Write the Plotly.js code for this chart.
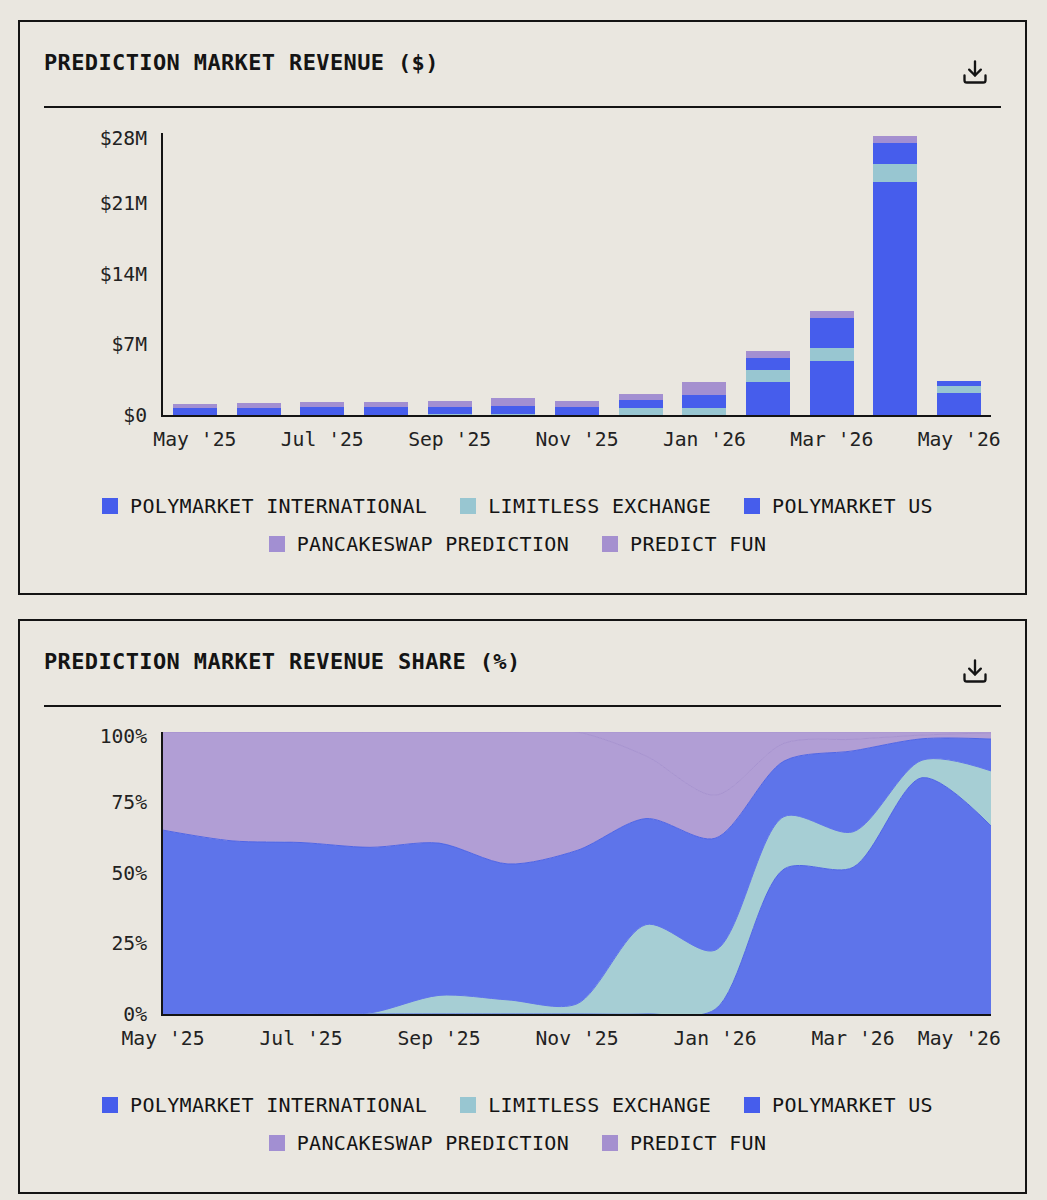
<!DOCTYPE html>
<html>
<head>
<meta charset="utf-8">
<title>Prediction market revenue</title>
<script src="https://cdn.plot.ly/plotly-3.0.1.min.js"></script>
<style>
  html, body { margin: 0; padding: 0; background: #eae7e0; }
  body { position: relative; width: 1047px; height: 1200px; overflow: hidden; font-family: "DejaVu Sans Mono", monospace; color: #141414; }
  .panel { position: absolute; left: 18px; width: 1005px; height: 571px; border: 2px solid #141414; }
  .title { position: absolute; left: 24px; top: 26px; font-size: 22px; line-height: 30px; font-weight: bold; letter-spacing: 0.37px; white-space: nowrap; }
  .icon { position: absolute; left: 941px; top: 36px; width: 28px; height: 28px; }
  .rule { position: absolute; left: 24px; top: 84px; width: 957px; height: 2px; background: #141414; }
  .plot { position: absolute; left: 24px; top: 98px; width: 980px; height: 340px; }
  .legend { position: absolute; left: 24px; top: 470px; width: 947px; display: flex; flex-wrap: wrap; justify-content: center; row-gap: 10px; column-gap: 33px; }
  .legend-item { display: flex; align-items: center; height: 28px; font-size: 20px; letter-spacing: 0.34px; white-space: nowrap; }
  .legend-item i { display: block; width: 16px; height: 16px; margin-right: 12px; }
</style>
</head>
<body>
<div class="panel" style="top: 20px;">
  <div class="title">PREDICTION MARKET REVENUE ($)</div>
  <svg class="icon" viewBox="0 0 24 24" fill="none" stroke="#141414" stroke-width="2" stroke-linecap="round" stroke-linejoin="round"><path d="M21 15v4a2 2 0 0 1-2 2H5a2 2 0 0 1-2-2v-4"/><polyline points="7 10 12 15 17 10"/><line x1="12" y1="15" x2="12" y2="3"/></svg>
  <div class="rule"></div>
  <div class="plot" id="revenuePlot"></div>
  <div class="legend" id="revenueLegend"></div>
</div>
<div class="panel" style="top: 619px;">
  <div class="title">PREDICTION MARKET REVENUE SHARE (%)</div>
  <svg class="icon" viewBox="0 0 24 24" fill="none" stroke="#141414" stroke-width="2" stroke-linecap="round" stroke-linejoin="round"><path d="M21 15v4a2 2 0 0 1-2 2H5a2 2 0 0 1-2-2v-4"/><polyline points="7 10 12 15 17 10"/><line x1="12" y1="15" x2="12" y2="3"/></svg>
  <div class="rule"></div>
  <div class="plot" id="sharePlot"></div>
  <div class="legend" id="shareLegend"></div>
</div>

<script>
// Months on both charts
const months = ["May '25", "Jun '25", "Jul '25", "Aug '25", "Sep '25", "Oct '25", "Nov '25", "Dec '25", "Jan '26", "Feb '26", "Mar '26", "Apr '26", "May '26"];
const monthIndex = [0, 1, 2, 3, 4, 5, 6, 7, 8, 9, 10, 11, 12];

const seriesNames = ['POLYMARKET INTERNATIONAL', 'LIMITLESS EXCHANGE', 'POLYMARKET US', 'PANCAKESWAP PREDICTION', 'PREDICT FUN'];
const seriesColors = ['#465dec', '#98c6d1', '#465dec', '#a28fd2', '#a590cf'];
const shareFills = ['#5e74ea', '#a6ced4', '#5e74ea', '#b19ed5', '#b19ed5'];
const shareLines = ['#4f65e6', '#5e74ea', '#4f65e6', '#a793d0', '#a793d0'];

// Revenue, $M per month
const revIntl = [0, 0, 0, 0, 0, 0, 0, 0, 0.05, 3.25, 5.33, 23.15, 2.22];
const revLimitless = [0, 0, 0, 0, 0.08, 0.07, 0.05, 0.66, 0.68, 1.22, 1.36, 1.75, 0.69];
const revUs = [0.66, 0.73, 0.79, 0.79, 0.75, 0.79, 0.74, 0.80, 1.26, 1.23, 2.91, 2.09, 0.43];
const revPancake = [0.40, 0.49, 0.50, 0.53, 0.56, 0.80, 0.60, 0.50, 0.51, 0.50, 0.55, 0.46, 0.05];
const revPredict = [0, 0, 0, 0, 0, 0, 0, 0.16, 0.75, 0.16, 0.18, 0.23, 0.01];

// Revenue share, % per month
const shareIntl = [0, 0, 0, 0, 0, 0, 0, 0, 1.6, 51.4, 52, 83.8, 66.7];
const shareLimitless = [0, 0, 0.3, 0.4, 6.6, 5, 3.6, 31.7, 21, 18.6, 12.6, 6.2, 19.5];
const shareUs = [65.2, 61.4, 60.5, 58.7, 54, 48.2, 54.4, 37.6, 39.7, 19.7, 28.7, 7.6, 11.3];
const sharePancake = [34.8, 38.6, 39.2, 40.9, 39.4, 46.8, 42, 22.2, 15.3, 6.3, 4.1, 1.3, 2.2];
const sharePredict = [0, 0, 0, 0, 0, 0, 0, 8.5, 22.4, 4, 2.6, 1.1, 0.3];

const revenueTickVals = [0, 7, 14, 21, 27.5];
const revenueTickText = ['$0', '$7M', '$14M', '$21M', '$28M'];
const shareTickVals = [0, 25, 50, 75, 98.6];
const shareTickText = ['0%', '25%', '50%', '75%', '100%'];
const revenueMonthTicks = ["May '25", "Jul '25", "Sep '25", "Nov '25", "Jan '26", "Mar '26", "May '26"];
const shareMonthVals = [0, 2, 4, 6, 8, 10, 11.54];

const tickFont = { family: 'DejaVu Sans Mono, monospace', size: 19.7, color: '#222222' };
const plotConfig = { displayModeBar: false, staticPlot: true };

function baseLayout() {
    return {
        width: 980,
        height: 340,
        margin: { l: 119, r: 33, t: 13, b: 45 },
        paper_bgcolor: 'rgba(0,0,0,0)',
        plot_bgcolor: 'rgba(0,0,0,0)',
        showlegend: false,
        font: tickFont
    };
}

function axisStyle() {
    return {
        showgrid: false,
        zeroline: false,
        showline: true,
        linecolor: '#141414',
        linewidth: 2,
        ticks: '',
        tickfont: tickFont
    };
}

function drawRevenue() {
    const values = [revIntl, revLimitless, revUs, revPancake, revPredict];
    const traces = values.map((y, i) => ({
        type: 'bar',
        x: months,
        y: y,
        name: seriesNames[i],
        marker: { color: seriesColors[i], line: { width: 0 } }
    }));

    const layout = baseLayout();
    layout.barmode = 'stack';
    layout.bargap = 0.31;
    layout.xaxis = Object.assign(axisStyle(), {
        type: 'category',
        categoryorder: 'array',
        categoryarray: months,
        range: [-0.5, 12.5],
        tickmode: 'array',
        tickvals: revenueMonthTicks,
        ticktext: revenueMonthTicks,
        tickangle: 0,
        ticklabelstandoff: 5
    });
    layout.yaxis = Object.assign(axisStyle(), {
        range: [0, 28],
        tickmode: 'array',
        tickvals: revenueTickVals,
        ticktext: revenueTickText,
        ticklabelstandoff: 10
    });
    Plotly.newPlot('revenuePlot', traces, layout, plotConfig);
}

function drawShare() {
    const values = [shareIntl, shareLimitless, shareUs, sharePancake, sharePredict];
    const traces = values.map((y, i) => ({
        type: 'scatter',
        mode: 'lines',
        x: monthIndex,
        y: y,
        name: seriesNames[i],
        stackgroup: 'share',
        fillcolor: shareFills[i],
        line: { color: shareLines[i], width: 1, shape: 'spline', smoothing: 0.85 }
    }));

    const layout = baseLayout();
    layout.xaxis = Object.assign(axisStyle(), {
        range: [0, 12],
        tickmode: 'array',
        tickvals: shareMonthVals,
        ticktext: revenueMonthTicks,
        tickangle: 0,
        ticklabelstandoff: 5
    });
    layout.yaxis = Object.assign(axisStyle(), {
        range: [0, 100],
        tickmode: 'array',
        tickvals: shareTickVals,
        ticktext: shareTickText,
        ticklabelstandoff: 10
    });
    Plotly.newPlot('sharePlot', traces, layout, plotConfig);
}

function buildLegend(id) {
    const el = document.getElementById(id);
    seriesNames.forEach((name, i) => {
        const item = document.createElement('div');
        item.className = 'legend-item';
        const swatch = document.createElement('i');
        swatch.style.background = seriesColors[i];
        item.appendChild(swatch);
        item.appendChild(document.createTextNode(name));
        el.appendChild(item);
    });
}

buildLegend('revenueLegend');
buildLegend('shareLegend');
drawRevenue();
drawShare();
</script>
</body>
</html>
